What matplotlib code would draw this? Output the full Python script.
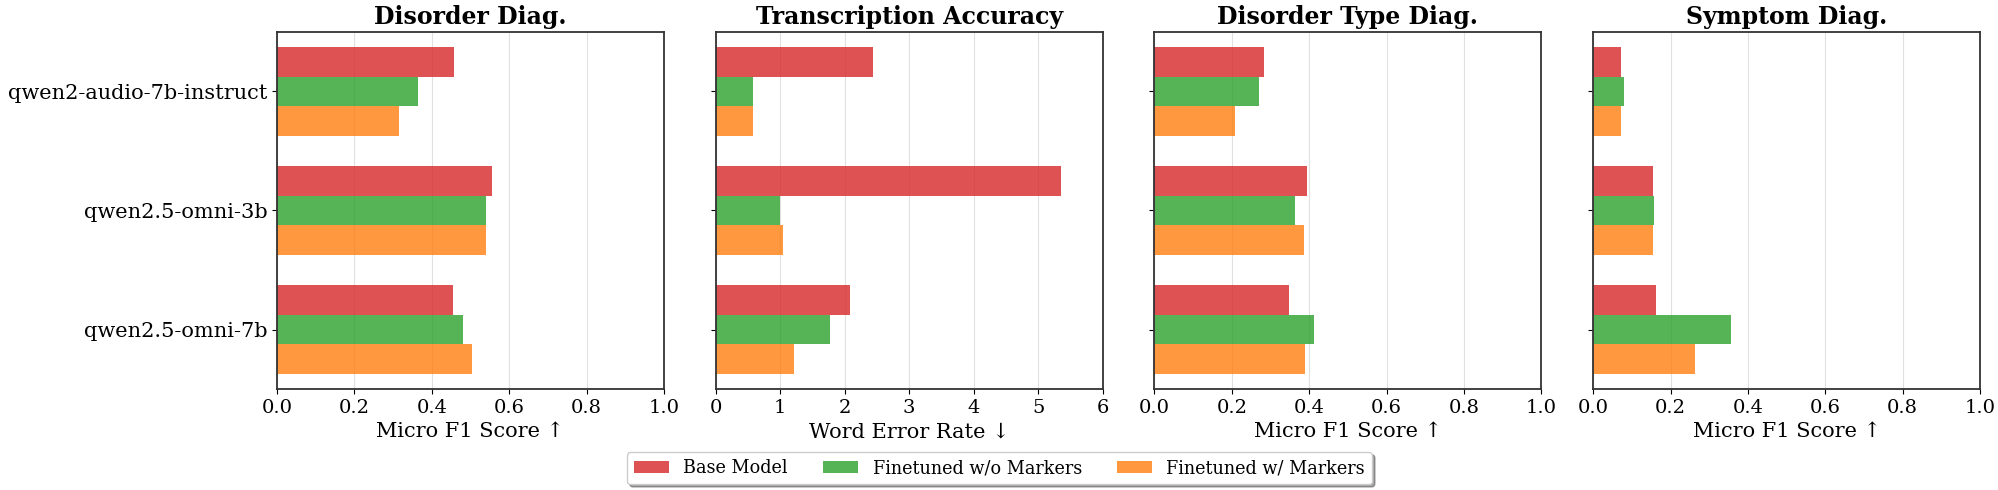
import matplotlib.pyplot as plt
import numpy as np

plt.rcParams['font.family'] = 'DejaVu Serif'

models = ["qwen2-audio-7b-instruct", "qwen2.5-omni-3b", "qwen2.5-omni-7b"]
series_names = ["Base Model", "Finetuned w/o Markers", "Finetuned w/ Markers"]
colors = ["#d62728", "#2ca02c", "#ff7f0e"]

titles = ["Disorder Diag.", "Transcription Accuracy", "Disorder Type Diag.", "Symptom Diag."]
xlabels = ["Micro F1 Score \u2191", "Word Error Rate \u2193", "Micro F1 Score \u2191", "Micro F1 Score \u2191"]
xlims = [1.0, 6, 1.0, 1.0]

# rows: base, finetuned w/o markers, finetuned w/ markers
disorder = [[0.458, 0.555, 0.455],
            [0.365, 0.541, 0.481],
            [0.314, 0.539, 0.503]]
wer = [[2.44, 5.35, 2.08],
       [0.57, 1.00, 1.77],
       [0.57, 1.04, 1.21]]
disorder_type = [[0.283, 0.394, 0.347],
                 [0.270, 0.363, 0.412],
                 [0.207, 0.386, 0.389]]
symptom = [[0.072, 0.155, 0.163],
           [0.079, 0.157, 0.356],
           [0.072, 0.155, 0.262]]

panels = [disorder, wer, disorder_type, symptom]

fig, axes = plt.subplots(1, 4, figsize=(19.99, 4.9), dpi=100, sharey=True)
plt.subplots_adjust(left=0.1386, right=0.9905, top=0.935, bottom=0.206, wspace=0.134)

y = np.arange(len(models))
h = 0.25

for i, ax in enumerate(axes):
    data = panels[i]
    for j in range(3):
        ax.barh(y + (j - 1) * h, data[j], height=h, color=colors[j], alpha=0.8,
                label=series_names[j], zorder=2)
    ax.set_xlim(0, xlims[i])
    ax.set_ylim(2.5, -0.5)
    ax.set_title(titles[i], fontsize=17, fontweight="bold")
    ax.set_xlabel(xlabels[i], fontsize=15)
    ax.grid(axis="x", color="#cccccc", alpha=0.6, zorder=0)
    ax.tick_params(labelsize=14)
    for s in ax.spines.values():
        s.set_color("#333333")
        s.set_linewidth(1.3)

axes[0].set_yticks(y)
axes[0].set_yticklabels(models, fontsize=15)

handles, labels = axes[0].get_legend_handles_labels()
fig.legend(handles, labels, loc="lower center", bbox_to_anchor=(0.5, -0.006), ncol=3,
           fontsize=12.7, shadow=True, frameon=True)

plt.savefig("out.png")
plt.close()
